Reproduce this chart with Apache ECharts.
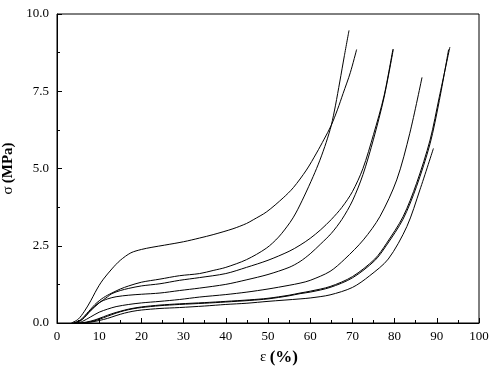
<!DOCTYPE html>
<html>
<head>
<meta charset="utf-8">
<script src="https://cdn.jsdelivr.net/npm/echarts@6/dist/echarts.min.js"></script>
<style>
  html, body { margin: 0; padding: 0; background: #fff; }
  #chart { width: 496px; height: 376px; }
</style>
</head>
<body>
<div id="chart"></div>
<script>
// strain (%) / stress (MPa) pairs, one array per curve
const curveA = [[3.8, 0], [5, 0.05], [6, 0.15], [7, 0.3], [8, 0.45], [9, 0.6], [10, 0.72], [11, 0.82], [12, 0.9], [13, 0.97], [15, 1.1], [17, 1.2], [20, 1.32], [24.4, 1.42], [29, 1.53], [33.8, 1.6], [37, 1.7], [40, 1.8], [44.9, 2.05], [49.6, 2.42], [52.5, 2.78], [55.2, 3.25], [56.6, 3.56], [58.5, 4.08], [60.7, 4.74], [62.3, 5.27], [63.8, 5.85], [65, 6.4], [66, 7.05], [67, 7.8], [68.1, 8.65], [69.2, 9.47]]
const curveB = [[3.4, 0], [5, 0.12], [6.5, 0.38], [8, 0.72], [9, 0.98], [10, 1.22], [11, 1.42], [13, 1.75], [15, 2.03], [17.5, 2.27], [20, 2.38], [22.5, 2.45], [25.5, 2.52], [30, 2.63], [33.8, 2.75], [37, 2.86], [41.7, 3.05], [44.9, 3.22], [46.5, 3.34], [49.7, 3.6], [53.6, 4.05], [56, 4.38], [59.1, 4.95], [61.5, 5.5], [63.3, 5.95], [65, 6.4], [66.5, 6.92], [67.8, 7.43], [69.5, 8.1], [71, 8.85]]
const curveC1 = [[4, 0], [6, 0.12], [8, 0.4], [10, 0.65], [12, 0.85], [13, 0.95], [15, 1.05], [17, 1.12], [20, 1.2], [24.4, 1.27], [29, 1.38], [33.8, 1.47], [40, 1.6], [44.9, 1.8], [50, 2.03], [55, 2.32], [57.6, 2.52], [60, 2.74], [62.5, 3.02], [65, 3.35], [67.5, 3.74], [70, 4.25], [72.5, 5.0], [75, 6.1], [77.5, 7.35], [79.6, 8.86]]
const curveC2 = [[4.5, 0], [6, 0.12], [8, 0.42], [10, 0.66], [12, 0.78], [14, 0.85], [17, 0.9], [20, 0.93], [24.4, 0.97], [29, 1.05], [33.8, 1.13], [40, 1.25], [45, 1.4], [50, 1.57], [55, 1.8], [57.6, 1.99], [60, 2.24], [62.5, 2.56], [65, 2.9], [67.5, 3.35], [70, 3.95], [72.5, 4.8], [75, 5.95], [77.5, 7.3], [79.7, 8.86]]
const curveD = [[4.5, 0], [6, 0.05], [8, 0.2], [10, 0.35], [12, 0.45], [14, 0.53], [17, 0.6], [20, 0.65], [24.4, 0.7], [29, 0.76], [33.8, 0.84], [40, 0.92], [45, 1.0], [50, 1.1], [55, 1.22], [57.6, 1.29], [60, 1.38], [64.7, 1.67], [68.2, 2.07], [72.6, 2.69], [76.5, 3.44], [80.5, 4.63], [83.6, 6.14], [86.5, 7.95]]
const curveE = [[5, 0], [7, 0.03], [9, 0.1], [11, 0.2], [13, 0.3], [15, 0.38], [17, 0.45], [20, 0.52], [24.4, 0.58], [29, 0.62], [35, 0.66], [40, 0.7], [45.7, 0.75], [50, 0.8], [55, 0.9], [57.6, 0.97], [60, 1.03], [64.7, 1.18], [70, 1.5], [75.3, 2.07], [78.1, 2.58], [82, 3.44], [85.2, 4.52], [88.4, 5.92], [90.6, 7.32], [93.1, 8.93]]
const curveF = [[5.5, 0], [8, 0.04], [10, 0.12], [12, 0.22], [14, 0.32], [16, 0.4], [18, 0.46], [20, 0.5], [24.4, 0.56], [29, 0.6], [35, 0.64], [40, 0.68], [45.7, 0.73], [50, 0.78], [55, 0.88], [57.6, 0.95], [60, 1.0], [64.7, 1.15], [70, 1.46], [75.3, 2.02], [78.1, 2.52], [82, 3.36], [85.2, 4.42], [88.4, 5.8], [90.6, 7.2], [92.8, 8.85]]
const curveG = [[6, 0], [8, 0.03], [10, 0.08], [12, 0.15], [14, 0.24], [16, 0.32], [18, 0.38], [20, 0.42], [24.4, 0.47], [29, 0.5], [35, 0.55], [40, 0.6], [45, 0.64], [50, 0.7], [57.6, 0.78], [60, 0.81], [64.7, 0.91], [70, 1.15], [74, 1.52], [78.5, 2.07], [82.9, 3.12], [86, 4.31], [89.2, 5.65]]

const curves = [curveA, curveB, curveC1, curveC2, curveD, curveE, curveF, curveG]

const chart = echarts.init(document.getElementById('chart'), null, { renderer: 'canvas' })

const fontFamily = 'Liberation Serif'

// ticks point into the plot, minor ticks halfway between labels
const axisCommon = {
  axisLine: { show: true, lineStyle: { color: '#000', width: 1 } },
  axisTick: { show: true, inside: true, length: 5, lineStyle: { color: '#000' } },
  minorTick: { show: true, splitNumber: 2, length: 3, lineStyle: { color: '#000' } },
  splitLine: { show: false },
  axisLabel: { color: '#000', fontFamily: fontFamily, fontSize: 13 }
}

chart.setOption({
  backgroundColor: '#fff',
  animation: false,
  grid: {
    left: 57,
    right: 17,
    top: 14,
    bottom: 53,
    outerBoundsMode: 'none',
    show: true,
    borderColor: '#000',
    borderWidth: 1
  },
  xAxis: Object.assign({}, axisCommon, {
    type: 'value',
    min: 0,
    max: 100,
    interval: 10,
    name: '{n|ε} {b|(%)}',
    nameLocation: 'middle',
    nameGap: 26,
    nameTextStyle: {
      color: '#000',
      padding: [0, 0, 0, 22],
      rich: {
        n: { fontFamily: fontFamily, fontSize: 15, color: '#000' },
        b: { fontFamily: fontFamily, fontSize: 17, fontWeight: 'bold', color: '#000' }
      }
    },
    axisLabel: Object.assign({}, axisCommon.axisLabel, { margin: 7 })
  }),
  yAxis: Object.assign({}, axisCommon, {
    type: 'value',
    min: 0,
    max: 10,
    interval: 2.5,
    name: '{n|σ} {b|(MPa)}',
    nameLocation: 'middle',
    nameGap: 40,
    nameTextStyle: {
      color: '#000',
      rich: {
        n: { fontFamily: fontFamily, fontSize: 15, color: '#000' },
        b: { fontFamily: fontFamily, fontSize: 15, fontWeight: 'bold', color: '#000' }
      }
    },
    axisLabel: Object.assign({}, axisCommon.axisLabel, {
      margin: 8,
      formatter: function(v) {
        return v.toFixed(1)
      }
    })
  }),
  series: curves.map(data => {
    return {
      type: 'line',
      data: data,
      showSymbol: false,
      smooth: 0.3,
      lineStyle: { color: '#000', width: 1 },
      silent: true
    }
  })
})
</script>
</body>
</html>
